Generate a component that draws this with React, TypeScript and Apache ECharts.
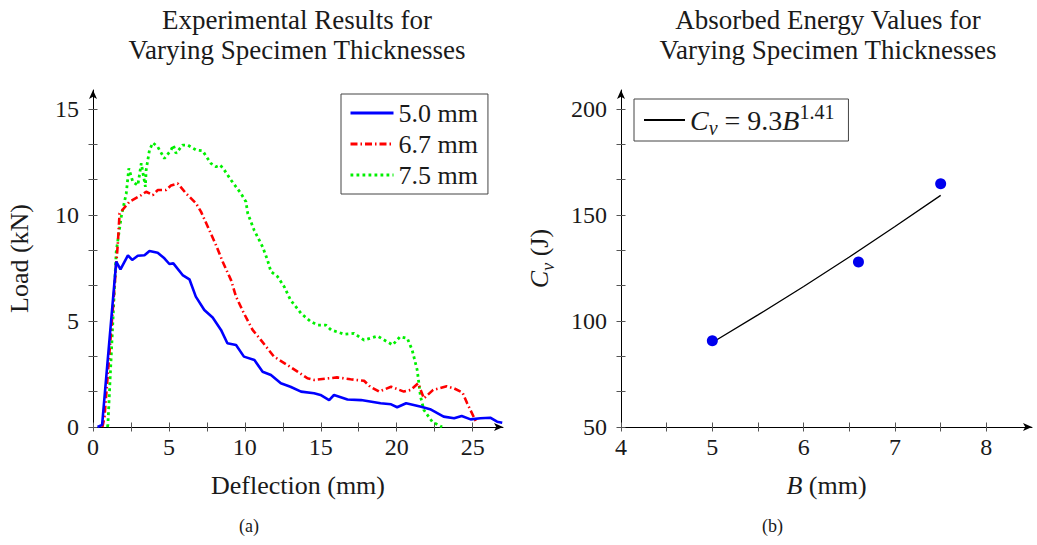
import React, { useEffect, useRef } from 'react';
import * as echarts from 'echarts';

const FONT = 'Liberation Serif';
const INK = '#1a1a1a';

// ---------- Left panel: load vs deflection ----------
const defl50 = [0.3, 0.6, 1.53, 1.81, 2.3, 2.58, 2.95, 3.39, 3.72, 4.26, 4.7, 5.03, 5.29, 5.9, 6.35, 6.77, 7.33, 7.88, 8.43, 8.85, 9.42, 9.94, 10.63, 11.17, 11.72, 12.37, 13.0, 13.7, 14.56, 14.98, 15.55, 15.87, 16.76, 17.65, 18.94, 19.63, 20.03, 20.62, 21.61, 22.2, 23.09, 23.78, 24.28, 24.87, 25.51, 26.16, 26.61, 26.95];
const load50 = [0, 0.1, 7.8, 7.44, 8.1, 7.88, 8.08, 8.1, 8.3, 8.22, 7.96, 7.69, 7.72, 7.17, 6.97, 6.15, 5.52, 5.17, 4.58, 3.95, 3.87, 3.32, 3.16, 2.61, 2.45, 2.06, 1.9, 1.67, 1.59, 1.51, 1.27, 1.51, 1.3, 1.27, 1.12, 1.07, 0.93, 1.12, 0.96, 0.84, 0.49, 0.41, 0.52, 0.36, 0.41, 0.44, 0.25, 0.2];

const defl67 = [0.62, 0.76, 1.63, 1.75, 2.4, 3.18, 3.5, 3.94, 4.26, 4.82, 5.14, 5.58, 6.13, 6.79, 7.11, 7.56, 8.1, 8.54, 9.09, 9.42, 9.94, 10.51, 11.06, 11.92, 12.81, 13.47, 14.12, 14.56, 15.55, 16.07, 16.96, 17.85, 18.25, 18.84, 19.63, 20.47, 20.92, 21.41, 21.79, 22.4, 23.29, 23.78, 24.33, 24.64, 25.17, 25.27];
const load67 = [0, 0.49, 8.6, 10.08, 10.63, 10.94, 11.1, 10.94, 11.18, 11.18, 11.4, 11.49, 11.02, 10.55, 10.16, 9.45, 8.58, 7.8, 6.93, 6.15, 5.36, 4.58, 4.1, 3.32, 2.92, 2.61, 2.3, 2.22, 2.3, 2.34, 2.25, 2.18, 1.9, 1.67, 1.9, 1.67, 1.75, 2.06, 1.35, 1.75, 1.92, 1.82, 1.63, 1.12, 0.33, 0.15];

const defl75 = [0.95, 0.98, 1.53, 1.86, 2.19, 2.36, 2.62, 2.95, 3.18, 3.45, 3.5, 3.72, 3.94, 4.26, 4.7, 5.14, 5.29, 5.47, 5.9, 6.24, 6.79, 7.22, 7.76, 8.1, 8.38, 8.65, 9.09, 9.74, 10.07, 10.19, 10.61, 11.17, 11.49, 11.72, 12.16, 12.59, 13.01, 13.7, 14.34, 14.79, 15.33, 15.68, 16.53, 17.19, 17.85, 18.74, 19.73, 20.22, 20.7, 21.02, 21.35, 21.57, 21.79, 22.34, 22.99];
const load75 = [0, 0.1, 8.27, 9.92, 11.02, 12.2, 11.57, 11.4, 12.44, 11.33, 12.12, 13.07, 13.41, 13.22, 12.67, 13.07, 13.3, 12.91, 13.3, 13.3, 13.07, 13.03, 12.44, 12.28, 12.36, 12.12, 11.65, 11.02, 10.63, 10.08, 9.29, 8.5, 7.88, 7.33, 7.09, 6.62, 5.99, 5.36, 4.97, 4.81, 4.81, 4.58, 4.38, 4.42, 4.1, 4.29, 3.87, 4.26, 4.18, 3.63, 2.69, 1.43, 0.8, 0.25, 0];

const deflTicks = [0, 2.5, 5, 7.5, 10, 12.5, 15, 17.5, 20, 22.5, 25];
const deflLabels = [0, 5, 10, 15, 20, 25];
const loadTicks = [0, 1.667, 3.333, 5, 6.667, 8.333, 10, 11.667, 13.333, 15];
const loadLabels = [0, 5, 10, 15];

// ---------- Right panel: absorbed energy ----------
const thickB = [5, 6.6, 7.5];
const energyCv = [90.7, 127.8, 164.8];
const fitB = [5, 5.5, 6, 6.5, 7, 7.5];
const fitCv = [89.9, 102.9, 116.3, 130.2, 144.6, 159.3];

const bTicks = [4, 4.5, 5, 5.5, 6, 6.5, 7, 7.5, 8];
const bLabels = [4, 5, 6, 7, 8];
const cvTicks = [50, 66.67, 83.33, 100, 116.67, 133.33, 150, 166.67, 183.33, 200];
const cvLabels = [50, 100, 150, 200];

const pairs = (xs: number[], ys: number[]) => xs.map((x, i) => [x, ys[i]]);

const makeRich = (base: number) => ({
  i: { fontFamily: FONT, fontStyle: 'italic', fontSize: base, color: INK, lineHeight: 36 },
  sub: { fontFamily: FONT, fontStyle: 'italic', fontSize: Math.round(base * 0.7), color: INK, verticalAlign: 'bottom', lineHeight: 14 },
  sup: { fontFamily: FONT, fontSize: Math.round(base * 0.7), color: INK, verticalAlign: 'top', lineHeight: 18 },
});

const TICK_STYLE = { color: '#555', width: 1 };

function mainX(grid: number, min: number, max: number, ticks: number[], labels: number[], name: string) {
  return {
    gridIndex: grid, type: 'value', min, max, position: 'bottom',
    name, nameLocation: 'middle', nameGap: 40,
    nameTextStyle: { fontFamily: FONT, fontSize: 26, color: INK, lineHeight: 36, rich: makeRich(26) },
    axisLine: { show: true, onZero: false, symbol: ['none', 'arrow'], symbolSize: [6, 9], lineStyle: { color: '#000', width: 1 } },
    axisTick: { show: true, customValues: ticks, length: 4.5, lineStyle: TICK_STYLE },
    axisLabel: { customValues: labels, fontFamily: FONT, fontSize: 24, color: INK, margin: 8 },
    splitLine: { show: false },
  };
}
function overlayX(grid: number, min: number, max: number, ticks: number[]) {
  return {
    gridIndex: grid, type: 'value', min, max, position: 'bottom',
    axisLine: { show: false, onZero: false },
    axisTick: { show: true, inside: true, customValues: ticks, length: 4.5, lineStyle: TICK_STYLE },
    axisLabel: { show: false }, splitLine: { show: false },
  };
}
function mainY(grid: number, min: number, max: number, ticks: number[], labels: number[], name: string, gap: number) {
  return {
    gridIndex: grid, type: 'value', min, max, position: 'left',
    name, nameLocation: 'middle', nameGap: gap,
    nameTextStyle: { fontFamily: FONT, fontSize: 26, color: INK, lineHeight: 36, rich: makeRich(26) },
    axisLine: { show: true, onZero: false, symbol: ['none', 'arrow'], symbolSize: [6, 9], lineStyle: { color: '#000', width: 1 } },
    axisTick: { show: true, customValues: ticks, length: 4.5, lineStyle: TICK_STYLE },
    axisLabel: { customValues: labels, fontFamily: FONT, fontSize: 24, color: INK, margin: 14 },
    splitLine: { show: false },
  };
}
function overlayY(grid: number, min: number, max: number, ticks: number[]) {
  return {
    gridIndex: grid, type: 'value', min, max, position: 'left',
    axisLine: { show: false, onZero: false },
    axisTick: { show: true, inside: true, customValues: ticks, length: 4.5, lineStyle: TICK_STYLE },
    axisLabel: { show: false }, splitLine: { show: false },
  };
}

export default function App() {
  const ref = useRef<HTMLDivElement>(null);
  useEffect(() => {
    if (!ref.current) return;
    const chart = echarts.init(ref.current, undefined, { renderer: 'svg' });
    chart.setOption({
      animation: false,
      backgroundColor: '#fff',
      title: [
        {
          text: 'Experimental Results for\nVarying Specimen Thicknesses',
          left: 297, top: 5, textAlign: 'center', padding: 0,
          textStyle: { fontFamily: FONT, fontSize: 27, fontWeight: 'normal', color: INK, lineHeight: 30 },
        },
        {
          text: 'Absorbed Energy Values for\nVarying Specimen Thicknesses',
          left: 828, top: 5, textAlign: 'center', padding: 0,
          textStyle: { fontFamily: FONT, fontSize: 27, fontWeight: 'normal', color: INK, lineHeight: 30 },
        },
      ],
      grid: [
        { left: 92, top: 90, width: 411, height: 337 },
        { left: 621, top: 90, width: 411, height: 337 },
      ],
      xAxis: [
        mainX(0, 0, 27, deflTicks, deflLabels, 'Deflection (mm)'),
        overlayX(0, 0, 27, deflTicks),
        mainX(1, 4, 8.5, bTicks, bLabels, '{i|B} (mm)'),
        overlayX(1, 4, 8.5, bTicks),
      ],
      yAxis: [
        mainY(0, 0, 15.9, loadTicks, loadLabels, 'Load (kN)', 56),
        overlayY(0, 0, 15.9, loadTicks),
        mainY(1, 50, 209, cvTicks, cvLabels, '{i|C}{sub|v} (J)', 64),
        overlayY(1, 50, 209, cvTicks),
      ],
      legend: [
        {
          data: ['5.0 mm', '6.7 mm', '7.5 mm'],
          orient: 'vertical', left: 341, top: 94,
          itemWidth: 43, itemHeight: 14, itemGap: 3,
          padding: [5, 10, 5, 8],
          borderColor: '#444', borderWidth: 1, borderRadius: 0,
          backgroundColor: '#fff', selectedMode: false,
          itemStyle: { opacity: 0 },
          lineStyle: { width: 3 },
          textStyle: { fontFamily: FONT, fontSize: 26, color: INK, lineHeight: 28 },
        },
        {
          data: ['fit'],
          left: 634, top: 99,
          itemWidth: 41, itemHeight: 14,
          padding: [3, 14, 3, 9],
          borderColor: '#444', borderWidth: 1, borderRadius: 0,
          backgroundColor: '#fff', selectedMode: false,
          itemStyle: { opacity: 0 },
          formatter: () => '{i|C}{sub|v} = 9.3{i|B}{sup|1.41}',
          textStyle: { fontFamily: FONT, fontSize: 28, color: INK, lineHeight: 36, rich: makeRich(28) },
        },
      ],
      series: [
        {
          name: '5.0 mm', type: 'line', xAxisIndex: 0, yAxisIndex: 0,
          data: pairs(defl50, load50), symbol: 'none', showSymbol: false,
          lineStyle: { color: '#0000ff', width: 2.6 }, itemStyle: { color: '#0000ff' }, z: 3,
        },
        {
          name: '6.7 mm', type: 'line', xAxisIndex: 0, yAxisIndex: 0,
          data: pairs(defl67, load67), symbol: 'none', showSymbol: false,
          lineStyle: { color: '#ff0000', width: 2.6, type: [7, 3, 1.5, 3] }, itemStyle: { color: '#ff0000' }, z: 2,
        },
        {
          name: '7.5 mm', type: 'line', xAxisIndex: 0, yAxisIndex: 0,
          data: pairs(defl75, load75), symbol: 'none', showSymbol: false,
          lineStyle: { color: '#00f000', width: 2.8, type: [2.8, 3.2] }, itemStyle: { color: '#00f000' }, z: 1,
        },
        {
          name: 'measured', type: 'scatter', xAxisIndex: 2, yAxisIndex: 2,
          data: pairs(thickB, energyCv), symbol: 'circle', symbolSize: 11,
          itemStyle: { color: '#0000ee', opacity: 1 }, z: 3,
        },
        {
          name: 'fit', type: 'line', xAxisIndex: 2, yAxisIndex: 2,
          data: pairs(fitB, fitCv), symbol: 'none', showSymbol: false,
          lineStyle: { color: '#000', width: 1.3 }, itemStyle: { color: '#000' }, z: 2,
        },
      ],
      graphic: [
        { type: 'text', left: 239, top: 517, style: { text: '(a)', fontFamily: FONT, fontSize: 18, fill: INK } },
        { type: 'text', left: 762, top: 517, style: { text: '(b)', fontFamily: FONT, fontSize: 18, fill: INK } },
      ],
    });
    return () => chart.dispose();
  }, []);
  return (
    <div
      ref={ref}
      style={{ position: 'absolute', left: 0, top: 0, width: 1037, height: 545, background: '#fff' }}
    />
  );
}
